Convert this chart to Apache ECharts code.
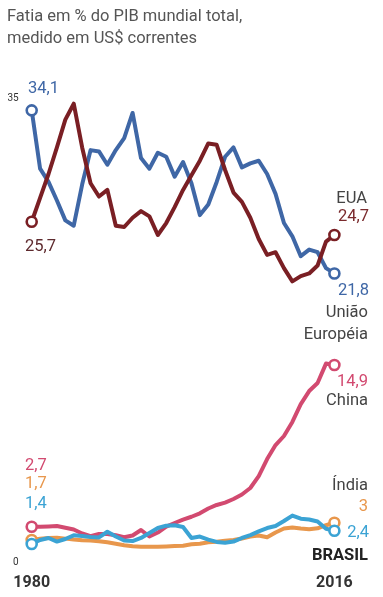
<!DOCTYPE html>
<html>
<head>
<meta charset="utf-8">
<script src="https://cdn.jsdelivr.net/npm/echarts@6/dist/echarts.min.js"></script>
<style>
html,body{margin:0;padding:0;background:#fff;}
#chart{width:383px;height:597px;}
</style>
</head>
<body>
<div id="chart"></div>
<script>
const years = [1980,1981,1982,1983,1984,1985,1986,1987,1988,1989,1990,1991,1992,1993,1994,1995,1996,1997,1998,1999,2000,2001,2002,2003,2004,2005,2006,2007,2008,2009,2010,2011,2012,2013,2014,2015,2016];

const euValues = [34.1,29.7,28.7,27.3,25.8,25.4,28.5,31.1,31.0,30.0,31.1,32.0,33.9,30.5,29.7,30.9,30.6,29.1,30.2,28.6,26.2,27.0,28.7,30.6,31.3,29.8,30.1,30.3,29.3,27.8,25.6,24.6,23.1,23.6,23.4,22.2,21.8];
const usaValues = [25.7,27.5,29.3,31.3,33.4,34.6,31.3,28.6,27.6,28.1,25.4,25.3,26.0,26.5,26.1,24.7,25.6,26.8,28.1,29.2,30.3,31.6,31.5,29.6,27.9,27.2,26.0,24.4,23.2,23.4,22.2,21.2,21.6,21.8,22.4,24.2,24.7];
const chinaValues = [2.7,2.7,2.72,2.75,2.62,2.49,2.19,1.98,2.15,2.15,2.05,1.9,2.04,2.45,1.96,2.26,2.71,2.98,3.24,3.45,3.71,4.07,4.34,4.52,4.79,5.13,5.62,6.52,7.8,8.86,9.54,10.6,11.95,12.93,13.54,15.0,14.9];
const indiaValues = [1.7,1.8,1.85,1.87,1.8,1.73,1.68,1.66,1.6,1.52,1.42,1.3,1.22,1.19,1.19,1.19,1.21,1.24,1.27,1.38,1.42,1.52,1.56,1.64,1.7,1.81,1.96,2.04,1.9,2.26,2.56,2.64,2.56,2.5,2.58,2.81,3.0];
const brasilValues = [1.4,1.7,1.85,1.58,1.77,2.05,2.0,1.92,1.89,2.32,1.96,1.66,1.62,1.85,2.22,2.6,2.78,2.81,2.68,1.85,1.96,1.73,1.55,1.49,1.58,1.85,2.07,2.35,2.6,2.75,3.13,3.54,3.3,3.24,3.09,2.55,2.4];

const yTicks = [0, 35];
const titleLines = ['Fatia em % do PIB mundial total,', 'medido em US$ correntes'];

const C = {
  eu: '#3f67a6',
  usa: '#7a1f24',
  china: '#d24a70',
  india: '#e8974c',
  brasil: '#3ba3d4'
};
const FONT = '"Roboto", sans-serif';
const fmt = v => String(v).replace('.', ',');

function makeSeries(name, values, color, z) {
  const last = values.length - 1;
  return {
    name, type: 'line', z,
    data: values.map((v, i) => [years[i], v]),
    symbol: 'circle',
    symbolSize: (val, p) => (p.dataIndex === 0 || p.dataIndex === last) ? 10 : 0,
    showSymbol: true,
    itemStyle: { color: '#fff', borderColor: color, borderWidth: 2.6 },
    lineStyle: { color, width: 4, join: 'round', cap: 'round' },
    emphasis: { disabled: true },
    animation: false
  };
}

const chart = echarts.init(document.getElementById('chart'), null, { renderer: 'canvas' });

function txt(text, x, y, color, size, align, weight) {
  return {
    type: 'text', x, y, silent: true,
    style: {
      text, fill: color, font: (weight || 'normal') + ' ' + size + 'px ' + FONT,
      align: align || 'left', verticalAlign: 'middle',
      textAlign: align || 'left', textVerticalAlign: 'middle'
    }
  };
}

const n = years.length - 1;
const graphics = [
  txt(titleLines[0], 7, 17, '#555', 16.5),
  txt(titleLines[1], 7, 39, '#555', 16.5),
  txt(fmt(euValues[0]), 28, 89, C.eu, 16.5),
  txt(fmt(usaValues[0]), 25, 247, '#5e2a2e', 16.5),
  txt('EUA', 367, 199, '#444', 16.5, 'right'),
  txt(fmt(usaValues[n]), 369, 217, '#7a2a2d', 16.5, 'right'),
  txt(fmt(euValues[n]), 369, 291, C.eu, 16.5, 'right'),
  txt('União', 368, 313, '#444', 16.5, 'right'),
  txt('Européia', 368, 335, '#444', 16.5, 'right'),
  txt(fmt(chinaValues[n]), 368, 382, C.china, 16.5, 'right'),
  txt('China', 368, 401, '#444', 16.5, 'right'),
  txt(fmt(chinaValues[0]), 25, 466, C.china, 16.5),
  txt(fmt(indiaValues[0]), 25, 484, C.india, 16.5),
  txt(fmt(brasilValues[0]), 25, 504, C.brasil, 16.5),
  txt('Índia', 368, 486, '#444', 16.5, 'right'),
  txt(fmt(indiaValues[n]), 368, 507, C.india, 16.5, 'right'),
  txt(fmt(brasilValues[n]), 369, 533, C.brasil, 16.5, 'right'),
  txt('BRASIL', 368, 556, '#222', 16.5, 'right', 'bold')
];

const option = {
  backgroundColor: '#fff',
  animation: false,
  grid: { left: 31.7, right: 48.6, top: 98.4, bottom: 34.5, containLabel: false },
  xAxis: {
    type: 'value', min: years[0], max: years[n], interval: years[n] - years[0],
    axisLine: { show: false }, axisTick: { show: false }, splitLine: { show: false },
    axisLabel: { color: '#333', fontSize: 16, fontWeight: 'bold', fontFamily: FONT, margin: 12,
      formatter: v => String(v) }
  },
  yAxis: {
    type: 'value', min: yTicks[0], max: yTicks[1], interval: yTicks[1] - yTicks[0],
    axisLine: { show: false }, axisTick: { show: false }, splitLine: { show: false },
    axisLabel: { color: '#333', fontSize: 10, fontFamily: FONT, margin: 13 }
  },
  graphic: graphics,
  series: [
    Object.assign(makeSeries('eixo', [], '#999', 1), {
      data: [],
      markLine: {
        silent: true, symbol: 'none', animation: false,
        lineStyle: { color: '#9a9a9a', width: 1.5, type: 'solid' },
        label: { show: false },
        data: [[{ coord: [1979.6, 0] }, { coord: [2012.85, 0] }]]
      }
    }),
    makeSeries('União Européia', euValues, C.eu, 2),
    makeSeries('EUA', usaValues, C.usa, 3),
    makeSeries('China', chinaValues, C.china, 4),
    makeSeries('Índia', indiaValues, C.india, 5),
    makeSeries('Brasil', brasilValues, C.brasil, 6)
  ]
};
chart.setOption(option);
</script>
</body>
</html>
